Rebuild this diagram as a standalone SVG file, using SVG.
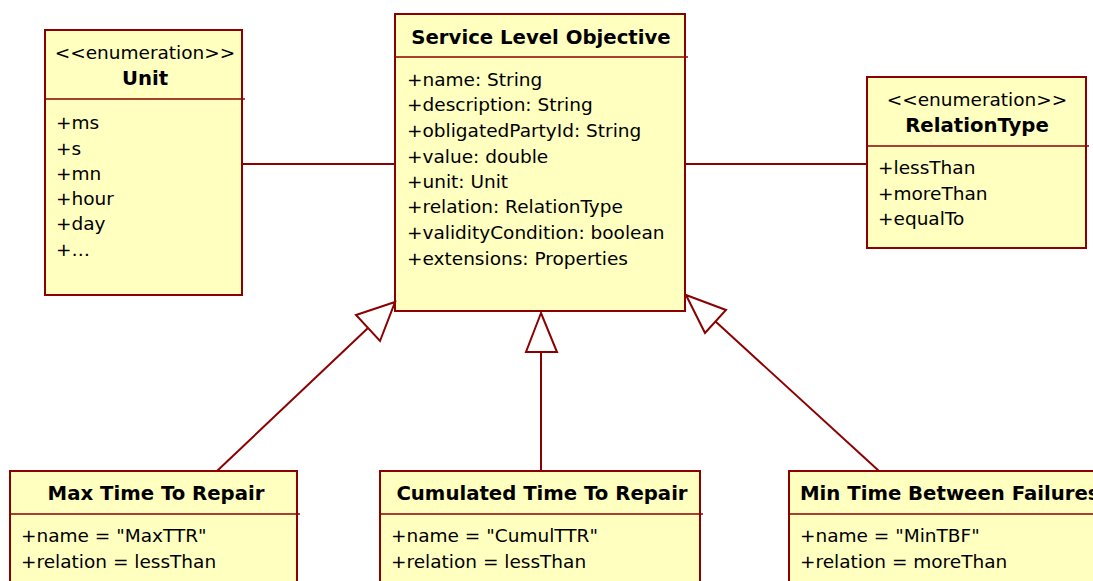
<svg xmlns="http://www.w3.org/2000/svg" width="1093" height="581" viewBox="0 0 1093 581">
<style>
.box{fill:#FFFFC0;stroke:#8B0000;stroke-width:2}
.div{stroke:#8B0000;stroke-width:1.5}
.t{font-family:"DejaVu Sans",sans-serif;font-size:18.5px;fill:#000}
.b{font-weight:bold;font-size:19.7px}
.c{text-anchor:middle}
.con{stroke:#8B0000;stroke-width:2;fill:none}
.tri{stroke:#8B0000;stroke-width:2;fill:#fff}
</style>
<rect width="1093" height="581" fill="#fff"/>
<g id="unit">
<rect class="box" x="45" y="30" width="197" height="265"/>
<line class="div" x1="45" y1="99" x2="245" y2="99"/>
<text class="t c" x="145" y="59">&lt;&lt;enumeration&gt;&gt;</text>
<text class="t b c" x="145" y="85">Unit</text>
<text class="t" x="56" y="129">+ms</text>
<text class="t" x="56" y="155">+s</text>
<text class="t" x="56" y="180">+mn</text>
<text class="t" x="56" y="205">+hour</text>
<text class="t" x="56" y="230">+day</text>
<text class="t" x="56" y="256">+…</text>
</g>
<g id="slo">
<rect class="box" x="395" y="14" width="290" height="297"/>
<line class="div" x1="395" y1="57" x2="688" y2="57"/>
<text class="t b c" x="541" y="44">Service Level Objective</text>
<text class="t" x="407" y="86">+name: String</text>
<text class="t" x="407" y="111">+description: String</text>
<text class="t" x="407" y="137">+obligatedPartyId: String</text>
<text class="t" x="407" y="163">+value: double</text>
<text class="t" x="407" y="188">+unit: Unit</text>
<text class="t" x="407" y="213">+relation: RelationType</text>
<text class="t" x="407" y="239">+validityCondition: boolean</text>
<text class="t" x="407" y="265">+extensions: Properties</text>
</g>
<g id="relationtype">
<rect class="box" x="867" y="77" width="219" height="171"/>
<line class="div" x1="867" y1="146" x2="1089" y2="146"/>
<text class="t c" x="977" y="106">&lt;&lt;enumeration&gt;&gt;</text>
<text class="t b c" x="977" y="132">RelationType</text>
<text class="t" x="878" y="174">+lessThan</text>
<text class="t" x="878" y="200">+moreThan</text>
<text class="t" x="878" y="225">+equalTo</text>
</g>
<g id="maxttr">
<rect class="box" x="10" y="471" width="287" height="120"/>
<line class="div" x1="10" y1="514" x2="300" y2="514"/>
<text class="t b c" x="156" y="500">Max Time To Repair</text>
<text class="t" x="21" y="542">+name = "MaxTTR"</text>
<text class="t" x="21" y="568">+relation = lessThan</text>
</g>
<g id="cumulttr">
<rect class="box" x="380" y="471" width="320" height="120"/>
<line class="div" x1="380" y1="514" x2="703" y2="514"/>
<text class="t b c" x="542" y="500">Cumulated Time To Repair</text>
<text class="t" x="391" y="542">+name = "CumulTTR"</text>
<text class="t" x="391" y="568">+relation = lessThan</text>
</g>
<g id="mintbf">
<rect class="box" x="789" y="471" width="320" height="120"/>
<line class="div" x1="789" y1="514" x2="1100" y2="514"/>
<text class="t b" x="800" y="500">Min Time Between Failures</text>
<text class="t" x="800" y="542">+name = "MinTBF"</text>
<text class="t" x="800" y="568">+relation = moreThan</text>
</g>
<g id="connectors">
<line class="con" x1="242" y1="164" x2="395" y2="164"/>
<line class="con" x1="685" y1="164" x2="867" y2="164"/>
<line class="con" x1="217" y1="471" x2="368" y2="328"/>
<polygon class="tri" points="395,302 356,315 380,341"/>
<line class="con" x1="541" y1="471" x2="541" y2="352"/>
<polygon class="tri" points="541,313 526,352 557,352"/>
<line class="con" x1="879" y1="471" x2="715" y2="321"/>
<polygon class="tri" points="686,295 726,310 705,333"/>
</g>
</svg>
